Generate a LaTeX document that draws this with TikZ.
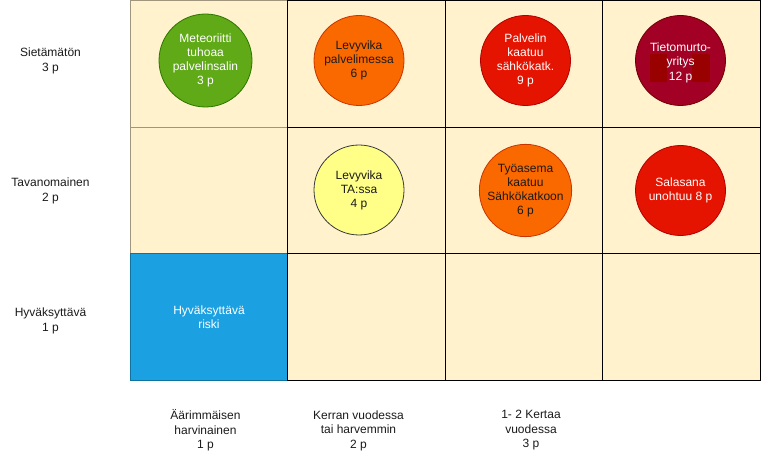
\documentclass[tikz,border=0pt]{standalone}
\usepackage{fontspec}
\setmainfont{Liberation Sans}
\definecolor{cellfill}{HTML}{FFF2CC}
\definecolor{cellgrey}{HTML}{A0957D}
\definecolor{gfill}{HTML}{60A917}\definecolor{gline}{HTML}{2D7600}
\definecolor{ofill}{HTML}{FA6800}\definecolor{oline}{HTML}{C73500}
\definecolor{rfill}{HTML}{E51400}\definecolor{rline}{HTML}{B20000}
\definecolor{dfill}{HTML}{A20025}\definecolor{dline}{HTML}{6F0000}
\definecolor{drect}{HTML}{990000}
\definecolor{yfill}{HTML}{FFFF88}\definecolor{yline}{HTML}{36393D}
\definecolor{bfill}{HTML}{1BA1E2}\definecolor{bline}{HTML}{10739E}
\definecolor{txt}{HTML}{1A1A1A}
\tikzset{
  cell/.style={draw=black, fill=cellfill, line width=1pt, rectangle, minimum width=157.5pt, minimum height=126.67pt, inner sep=0pt, outer sep=0pt, anchor=north west},
  risk/.style={circle, minimum size=90pt, inner sep=0pt, line width=0.8pt, align=center, font=\fontsize{12}{14}\selectfont},
  lbl/.style={align=center, font=\fontsize{12}{14.5}\selectfont, text=txt, inner sep=0pt}
}
\begin{document}
\begin{tikzpicture}[x=1pt,y=-1pt]
\useasboundingbox (0,0) rectangle (762,462);
% column 1
\node[cell, draw=cellgrey] (c11) at (130,0.5) {};
\node[cell, draw=cellgrey] (c21) at (130,127.17) {};
\node[cell, draw=bline, fill=bfill] (c31) at (130,253.83) {};
\node[text=white, align=center, font=\fontsize{12}{14}\selectfont, inner sep=0pt] (acc) at (209,317) {Hyväksyttävä\\riski};
% other columns
\node[cell] (c12) at (287.5,0.5) {};
\node[cell] (c13) at (445,0.5) {};
\node[cell] (c14) at (602.5,0.5) {};
\node[cell] (c22) at (287.5,127.17) {};
\node[cell] (c23) at (445,127.17) {};
\node[cell] (c24) at (602.5,127.17) {};
\node[cell] (c32) at (287.5,253.83) {};
\node[cell] (c33) at (445,253.83) {};
\node[cell] (c34) at (602.5,253.83) {};
% risks
\node[risk, fill=gfill, draw=gline, text=white, minimum size=93pt] (r1) at (205.5,60.5) {Meteoriitti\\tuhoaa\\palvelinsalin\\3 p};
\node[risk, fill=ofill, draw=oline, text=txt] (r2) at (359,60.5) {Levyvika\\palvelimessa\\6 p};
\node[risk, fill=rfill, draw=rline, text=white] (r3) at (525.5,60.5) {Palvelin\\kaatuu\\sähkökatk.\\9 p};
\node[risk, fill=dfill, draw=dline] (r4) at (680.5,60.5) {};
\fill[drect] (650,54.3) rectangle (667.3,82.3);
\fill[drect] (692.3,54.3) rectangle (710,82.3);
\node[text=white, align=center, font=\fontsize{12}{14.5}\selectfont, inner sep=0pt] (r4t) at (680.5,62.5) {Tietomurto-\\yritys\\12 p};
\node[risk, fill=yfill, draw=yline, text=txt] (r5) at (359,190) {Levyvika\\TA:ssa\\4 p};
\node[risk, fill=ofill, draw=oline, text=txt] (r6) at (525.5,190.5) {Työasema\\kaatuu\\Sähkökatkoon\\6 p};
\node[risk, fill=rfill, draw=rline, text=white] (r7) at (680.5,190.5) {Salasana\\unohtuu 8 p};
% row labels
\node[lbl] (l1) at (50.5,61) {Sietämätön\\3 p};
\node[lbl] (l2) at (50.5,191) {Tavanomainen\\2 p};
\node[lbl] (l3) at (50.5,321) {Hyväksyttävä\\1 p};
% column labels
\node[lbl] (k1) at (205.5,430.5) {Äärimmäisen\\harvinainen\\1 p};
\node[lbl] (k2) at (358.5,430.5) {Kerran vuodessa\\tai harvemmin\\2 p};
\node[lbl] (k3) at (531,430.5) {1- 2 Kertaa\\vuodessa\\3 p};
\end{tikzpicture}
\end{document}
